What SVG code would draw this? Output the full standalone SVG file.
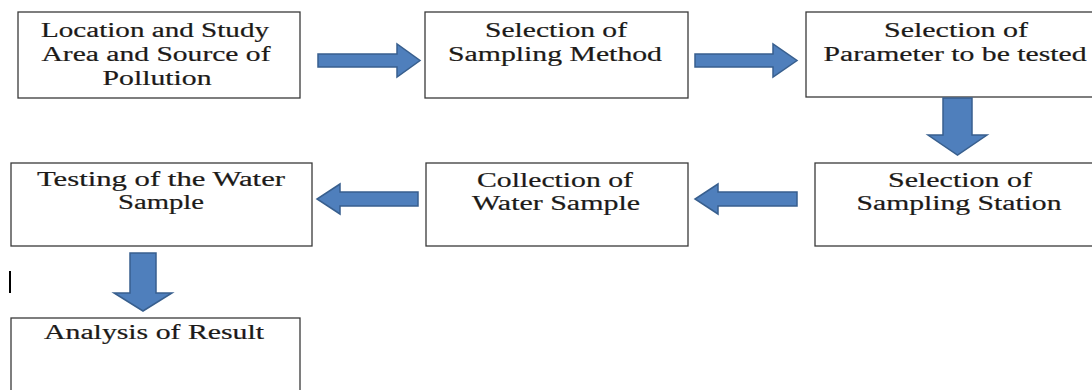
<svg xmlns="http://www.w3.org/2000/svg" width="1092" height="390" viewBox="0 0 1092 390">
<style>
.box{fill:#ffffff;stroke:#3a3a3a;stroke-width:1.3}
.t{font-family:"Liberation Serif","Times New Roman",serif;font-size:20px;fill:#1c1a18;stroke:#1c1a18;stroke-width:0.2;text-anchor:middle}
.arr{fill:#4f7fbc;stroke:#385f8e;stroke-width:1.5;stroke-linejoin:miter}
</style>
<rect width="1092" height="390" fill="#ffffff"/>
<g id="n1"><rect class="box" x="18" y="12" width="282" height="86"/>
<text class="t" x="155" y="37" textLength="228" lengthAdjust="spacingAndGlyphs">Location and Study</text>
<text class="t" x="156" y="61" textLength="229" lengthAdjust="spacingAndGlyphs">Area and Source of</text>
<text class="t" x="157" y="85" textLength="109" lengthAdjust="spacingAndGlyphs">Pollution</text></g>
<g id="n2"><rect class="box" x="425" y="12" width="263" height="86"/>
<text class="t" x="556" y="37" textLength="142" lengthAdjust="spacingAndGlyphs">Selection of</text>
<text class="t" x="555" y="61" textLength="214" lengthAdjust="spacingAndGlyphs">Sampling Method</text></g>
<g id="n3"><rect class="box" x="806" y="12" width="300" height="85"/>
<text class="t" x="956" y="37" textLength="144" lengthAdjust="spacingAndGlyphs">Selection of</text>
<text class="t" x="955" y="61" textLength="263" lengthAdjust="spacingAndGlyphs">Parameter to be tested</text></g>
<g id="n4"><rect class="box" x="815" y="163" width="290" height="83"/>
<text class="t" x="960" y="187" textLength="144" lengthAdjust="spacingAndGlyphs">Selection of</text>
<text class="t" x="959" y="210" textLength="205" lengthAdjust="spacingAndGlyphs">Sampling Station</text></g>
<g id="n5"><rect class="box" x="426" y="163" width="262" height="83"/>
<text class="t" x="555" y="187" textLength="156" lengthAdjust="spacingAndGlyphs">Collection of</text>
<text class="t" x="556" y="210" textLength="168" lengthAdjust="spacingAndGlyphs">Water Sample</text></g>
<g id="n6"><rect class="box" x="11" y="163" width="301" height="83"/>
<text class="t" x="161" y="186" textLength="248" lengthAdjust="spacingAndGlyphs">Testing of the Water</text>
<text class="t" x="161" y="209" textLength="86" lengthAdjust="spacingAndGlyphs">Sample</text></g>
<g id="n7"><rect class="box" x="11" y="318" width="289" height="80"/>
<text class="t" x="154" y="339" textLength="220" lengthAdjust="spacingAndGlyphs">Analysis of Result</text></g>
<g id="connectors">
<polygon class="arr" points="318,54 397,54 397,44 420,60.5 397,77 397,67 318,67"/>
<polygon class="arr" points="695,54 773,54 773,44 797,60.5 773,77 773,67 695,67"/>
<polygon class="arr" points="943,98 972,98 972,135 987,135 957.5,155 928,135 943,135"/>
<polygon class="arr" points="797,192 718,192 718,184 695,199 718,214 718,206 797,206"/>
<polygon class="arr" points="418,192 340,192 340,184 317,199 340,214 340,206 418,206"/>
<polygon class="arr" points="130,253 156,253 156,293 172,293 143,311 114,293 130,293"/>
</g>
<rect x="9" y="271" width="2" height="22" fill="#000000"/>
</svg>
